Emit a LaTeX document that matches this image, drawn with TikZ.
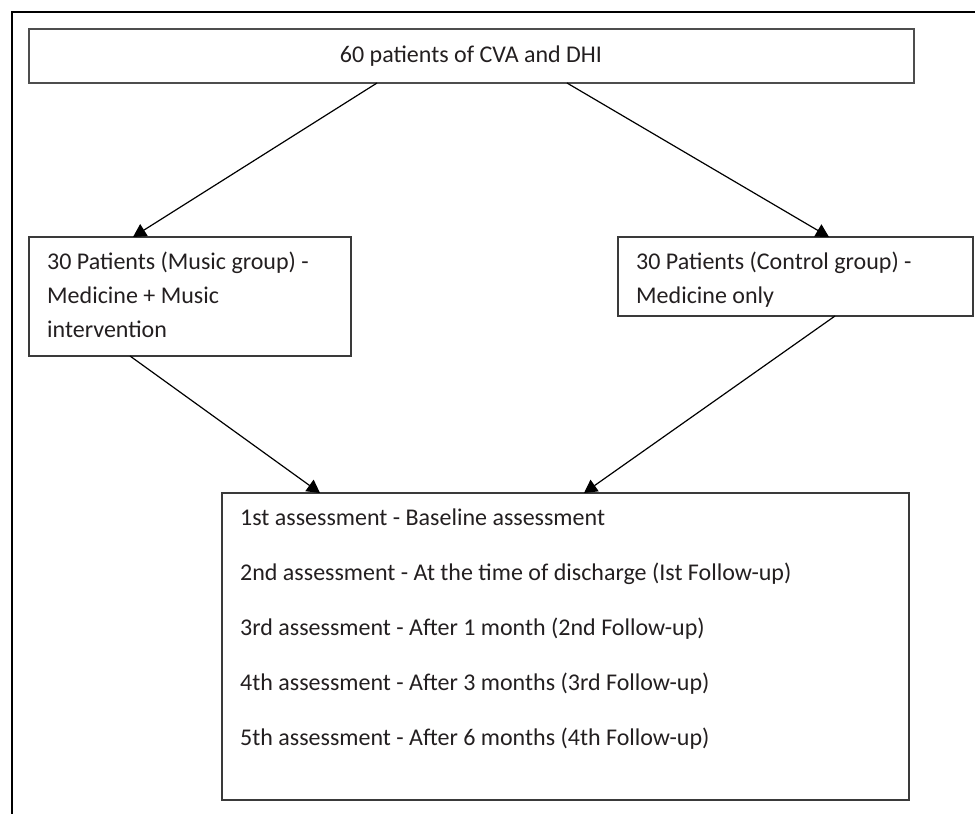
\documentclass[tikz,border=0pt]{standalone}
\usepackage{fontspec}
\setmainfont{Carlito}
\usetikzlibrary{arrows.meta}
\definecolor{txt}{HTML}{231F20}
\definecolor{edge}{HTML}{3A3A3A}
\tikzset{
  box/.style={draw=edge, line width=1.5pt, rectangle, inner sep=0pt, outer sep=0pt, anchor=north west},
  lbl/.style={anchor=base west, inner sep=0pt, text=txt, font=\fontsize{24}{28}\selectfont},
  arr/.style={draw=black, line width=1.2pt, -{Triangle[length=13pt,width=14pt]}}
}
\begin{document}
\begin{tikzpicture}[x=1pt,y=-1pt]
\useasboundingbox (0,0) rectangle (975,814);
% outer frame (left and top edges only)
\draw[line width=2.5pt, black] (12,814) -- (12,12) -- (975,12);

% boxes
\node[box, line width=2pt, draw=edge!90, minimum width=885pt, minimum height=54pt] (top) at (29,29) {};
\node[box, minimum width=322pt, minimum height=119pt] (left) at (29,237) {};
\node[box, minimum width=355pt, minimum height=79pt] (right) at (618,237) {};
\node[box, minimum width=687pt, minimum height=307pt] (bottom) at (222,493) {};

% texts
\node[lbl, anchor=base] (t0) at (471,62) {60 patients of CVA and DHI};

\node[lbl] (l1) at (47,269) {30 Patients (Music group) -};
\node[lbl] (l2) at (47,303) {Medicine + Music};
\node[lbl] (l3) at (47,337) {intervention};

\node[lbl] (r1) at (636,269) {30 Patients (Control group) -};
\node[lbl] (r2) at (636,303) {Medicine only};

\node[lbl] (b1) at (240,525) {1st assessment - Baseline assessment};
\node[lbl] (b2) at (240,580) {2nd assessment - At the time of discharge (Ist Follow-up)};
\node[lbl] (b3) at (240,635) {3rd assessment - After 1 month (2nd Follow-up)};
\node[lbl] (b4) at (240,690) {4th assessment - After 3 months (3rd Follow-up)};
\node[lbl] (b5) at (240,745) {5th assessment - After 6 months (4th Follow-up)};

% connectors
\draw[arr] ([xshift=348pt]top.south west) -- ([xshift=104pt]left.north west);
\draw[arr] ([xshift=538pt]top.south west) -- ([xshift=211pt]right.north west);
\draw[arr] ([xshift=101pt]left.south west) -- ([xshift=98pt]bottom.north west);
\draw[arr] ([xshift=217pt]right.south west) -- ([xshift=362pt]bottom.north west);
\end{tikzpicture}
\end{document}
